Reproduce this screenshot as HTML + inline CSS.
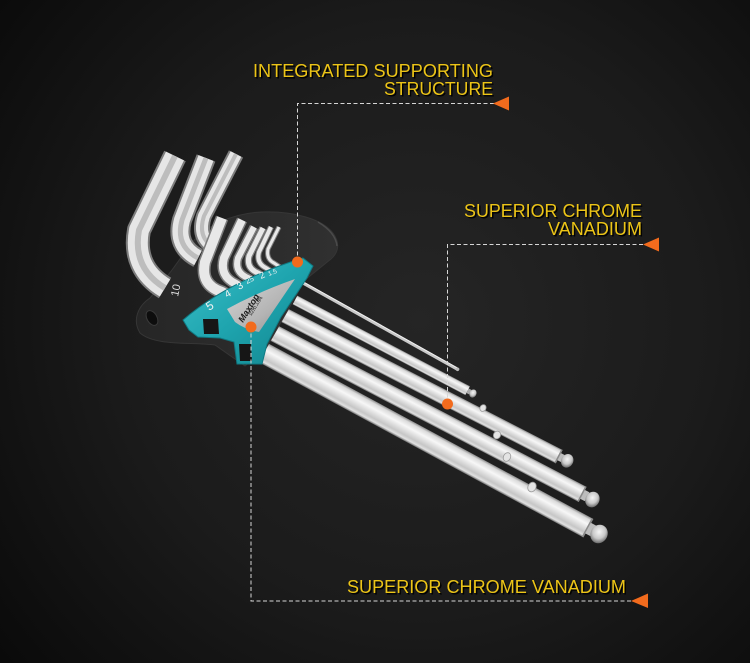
<!DOCTYPE html>
<html><head><meta charset="utf-8"><style>
html,body{margin:0;padding:0;background:#141414;}
svg{display:block}
</style></head><body>
<svg width="750" height="663" viewBox="0 0 750 663" xmlns="http://www.w3.org/2000/svg">
<defs>
<radialGradient id="bg" cx="420" cy="320" r="540" gradientUnits="userSpaceOnUse">
<stop offset="0" stop-color="#252525"/>
<stop offset="0.55" stop-color="#1b1b1b"/>
<stop offset="1" stop-color="#0a0a0a"/>
</radialGradient>
<linearGradient id="metal" x1="0" y1="0" x2="0" y2="1">
<stop offset="0" stop-color="#8a8a8a"/>
<stop offset="0.12" stop-color="#dadada"/>
<stop offset="0.35" stop-color="#f7f7f7"/>
<stop offset="0.55" stop-color="#dedede"/>
<stop offset="0.75" stop-color="#c6c6c6"/>
<stop offset="0.9" stop-color="#e2e2e2"/>
<stop offset="1" stop-color="#6c6c6c"/>
</linearGradient>
<radialGradient id="ball" cx="0.45" cy="0.4" r="0.6">
<stop offset="0" stop-color="#f5f5f5"/>
<stop offset="0.6" stop-color="#c9c9c9"/>
<stop offset="1" stop-color="#6e6e6e"/>
</radialGradient>
<linearGradient id="teal" x1="0" y1="0" x2="1" y2="1">
<stop offset="0" stop-color="#3cc0c9"/>
<stop offset="0.5" stop-color="#1ea4ae"/>
<stop offset="1" stop-color="#12838c"/>
</linearGradient>
<linearGradient id="gray" x1="0" y1="0" x2="1" y2="1">
<stop offset="0" stop-color="#d6d6d6"/>
<stop offset="0.6" stop-color="#b4b4b4"/>
<stop offset="1" stop-color="#8a8a8a"/>
</linearGradient>
<linearGradient id="blk" x1="0" y1="0" x2="1" y2="0">
<stop offset="0" stop-color="#262626"/>
<stop offset="1" stop-color="#303030"/>
</linearGradient>
</defs>

<rect width="750" height="663" fill="url(#bg)"/>

<!-- long arms -->
<g transform="translate(262,352) rotate(28.37)">
<rect x="0" y="-10.5" width="370.5" height="21" fill="url(#metal)"/>
<rect x="369" y="-10.5" width="2" height="21" fill="#8a8a8a"/>
<rect x="370.5" y="-6" width="6" height="12" fill="#bdbdbd"/>
<ellipse cx="383" cy="0" rx="8.5" ry="9.5" fill="url(#ball)"/>
</g>
<g transform="translate(268,330) rotate(27.59)">
<rect x="0" y="-8.5" width="355" height="17" fill="url(#metal)"/>
<rect x="353.5" y="-8.5" width="1.5" height="17" fill="#8a8a8a"/>
<rect x="355" y="-5" width="5" height="10" fill="#bdbdbd"/>
<ellipse cx="366" cy="0" rx="7" ry="8" fill="url(#ball)"/>
</g>
<g transform="translate(280,313) rotate(27.23)">
<rect x="0" y="-7.5" width="314" height="15" fill="url(#metal)"/>
<rect x="312.5" y="-7.5" width="1.5" height="15" fill="#8a8a8a"/>
<rect x="314" y="-4" width="4" height="8" fill="#bdbdbd"/>
<ellipse cx="323" cy="0" rx="6" ry="7" fill="url(#ball)"/>
</g>
<g transform="translate(295,300) rotate(27.73)">
<rect x="0" y="-5" width="195" height="10" fill="url(#metal)"/>
<rect x="195" y="-2.5" width="3" height="5" fill="#aaaaaa"/>
<ellipse cx="201" cy="0" rx="3.5" ry="4.2" fill="url(#ball)"/>
</g>
<g transform="translate(303,283) rotate(29.18)">
<rect x="0" y="-1.6" width="176.4" height="3.2" fill="#c9c9c9"/>
<rect x="0" y="-1.6" width="176.4" height="1" fill="#efefef"/>
<circle cx="177" cy="0" r="1.8" fill="#bbbbbb"/>
</g>
<!-- knobs of small keys lying on bars -->
<g fill="#e4e4e4" stroke="#9a9a9a" stroke-width="0.8">
<ellipse cx="0" cy="0" rx="3" ry="3.5" transform="translate(483,408) rotate(28)"/>
<ellipse cx="0" cy="0" rx="3.5" ry="4" transform="translate(497,435) rotate(28)"/>
<ellipse cx="0" cy="0" rx="3.5" ry="4.5" transform="translate(507,457) rotate(28)"/>
<ellipse cx="0" cy="0" rx="4" ry="5" transform="translate(532,487) rotate(28)"/>
</g>

<!-- black holder -->
<path d="M140,333 C132,320 138,306 150,298 L172,270 L190,245 C205,226 232,213 262,212 C294,211 322,219 333,233 C340,243 339,252 331,259 L305,280 L265,350 L245,366 L215,345 C190,342 155,346 140,333 Z" fill="url(#blk)" stroke="#363636" stroke-width="1"/>
<path d="M318,222 C328,228 336,236 337,246" fill="none" stroke="#4a4a4a" stroke-width="1.5"/>
<ellipse cx="152" cy="318" rx="5" ry="8" transform="rotate(-30 152 318)" fill="#0d0d0d" stroke="#3a3a3a" stroke-width="1"/>
<text transform="translate(178,297) rotate(-78)" font-family="Liberation Sans, sans-serif" font-size="11" fill="#dddddd">10</text>

<!-- big L short arms -->
<g fill="none" stroke-linecap="butt" stroke-linejoin="round">
<path d="M175,156 L139,230 Q132,268 165,288" stroke="#7d7d7d" stroke-width="24"/>
<path d="M175,156 L139,230 Q132,268 165,288" stroke="#e6e6e6" stroke-width="20"/>
<path d="M175,156 L139,230 Q132,268 165,288" stroke="#bdbdbd" stroke-width="6"/>

<path d="M206,158 L182,220 Q175,246 198,258" stroke="#7d7d7d" stroke-width="20"/>
<path d="M206,158 L182,220 Q175,246 198,258" stroke="#e6e6e6" stroke-width="16"/>
<path d="M206,158 L182,220 Q175,246 198,258" stroke="#bdbdbd" stroke-width="5"/>

<path d="M236,154 L204,216 Q197,238 214,247" stroke="#7d7d7d" stroke-width="16"/>
<path d="M236,154 L204,216 Q197,238 214,247" stroke="#e6e6e6" stroke-width="12"/>
<path d="M236,154 L204,216 Q197,238 214,247" stroke="#bdbdbd" stroke-width="4"/>

<!-- small keys -->
<path d="M222,218 L205,262 Q200,285 222,292 L232,298" stroke="#7d7d7d" stroke-width="13"/>
<path d="M222,218 L205,262 Q200,285 222,292 L232,298" stroke="#e8e8e8" stroke-width="10"/>
<path d="M242,220 L224,258 Q219,276 236,284 L246,290" stroke="#7d7d7d" stroke-width="11"/>
<path d="M242,220 L224,258 Q219,276 236,284 L246,290" stroke="#e8e8e8" stroke-width="8"/>
<path d="M254,227 L238,258 Q234,272 248,278 L256,283" stroke="#7d7d7d" stroke-width="9"/>
<path d="M254,227 L238,258 Q234,272 248,278 L256,283" stroke="#e8e8e8" stroke-width="6"/>
<path d="M263,228 L249,256 Q246,268 258,273 L265,277" stroke="#7d7d7d" stroke-width="7.5"/>
<path d="M263,228 L249,256 Q246,268 258,273 L265,277" stroke="#e8e8e8" stroke-width="5"/>
<path d="M271,227 L259,252 Q256,263 266,268 L272,272" stroke="#7d7d7d" stroke-width="6"/>
<path d="M271,227 L259,252 Q256,263 266,268 L272,272" stroke="#e8e8e8" stroke-width="4"/>
<path d="M279,227 L268,249 Q266,259 274,263 L280,267" stroke="#7d7d7d" stroke-width="5"/>
<path d="M279,227 L268,249 Q266,259 274,263 L280,267" stroke="#e8e8e8" stroke-width="3"/>
</g>

<!-- teal holder -->
<path d="M183,320 Q228,281 303,258 L313,266 L307,278 L281,317 L267,344 L262,364 L237,364 L234,342 L220,338 L198,337 L189,330 Z" fill="url(#teal)" stroke="#0f7a83" stroke-width="1"/>
<path d="M227,309 Q258,292 295,279 L259,332 Q244,329 235,322 Z" fill="url(#gray)"/>
<path d="M203,319 L218,319 L219,334 L204,334 Z" fill="#161616"/>
<path d="M239,344 L251,344 L252,361 L240,361 Z" fill="#161616"/>
<g font-family="Liberation Sans, sans-serif" fill="#f2f2f2">
<text transform="translate(209,311) rotate(-32)" font-size="12">5</text>
<text transform="translate(227,298) rotate(-30)" font-size="10">4</text>
<text transform="translate(239,290) rotate(-28)" font-size="10">3</text>
<text transform="translate(247,284) rotate(-26)" font-size="7.5">25</text>
<text transform="translate(261,279) rotate(-24)" font-size="9">2</text>
<text transform="translate(269,276) rotate(-22)" font-size="6.5">1.5</text>
</g>
<text transform="translate(243,323) rotate(-58)" font-family="Liberation Sans, sans-serif" font-size="9" font-weight="bold" font-style="italic" fill="#1e1e1e">Maxtop</text>
<text transform="translate(251,316) rotate(-58)" font-family="Liberation Sans, 'Noto Sans CJK SC', sans-serif" font-size="5.5" fill="#2a2a2a">迈拓工具</text>

<!-- annotation lines -->
<g fill="none" stroke="#d6d6d6" stroke-width="1" stroke-dasharray="4 2.5">
<path d="M297.5,262 V103.5 H496"/>
<path d="M447.5,404 V244.5 H645"/>
<path d="M251,327 V601 H633"/>
</g>
<g fill="#f26b1d">
<polygon points="493,103.5 509,96.5 509,110.5"/>
<polygon points="643,244.5 659,237.5 659,251.5"/>
<polygon points="631,601 648,593.5 648,608"/>
<circle cx="297.5" cy="262" r="5.5"/>
<circle cx="447.5" cy="404" r="5.5"/>
<circle cx="251" cy="327" r="5.5"/>
</g>

<!-- labels -->
<g font-family="Liberation Sans, sans-serif" font-size="18">
<g fill="#000" opacity="0.9" transform="translate(1.5,1.5)">
<text x="253" y="77" textLength="240" lengthAdjust="spacingAndGlyphs">INTEGRATED SUPPORTING</text>
<text x="384" y="95" textLength="109" lengthAdjust="spacingAndGlyphs">STRUCTURE</text>
<text x="464" y="217" textLength="178" lengthAdjust="spacingAndGlyphs">SUPERIOR CHROME</text>
<text x="548" y="235" textLength="94" lengthAdjust="spacingAndGlyphs">VANADIUM</text>
<text x="347" y="593" textLength="279" lengthAdjust="spacingAndGlyphs">SUPERIOR CHROME VANADIUM</text>
</g>
<g fill="#ecc417">
<text x="253" y="77" textLength="240" lengthAdjust="spacingAndGlyphs">INTEGRATED SUPPORTING</text>
<text x="384" y="95" textLength="109" lengthAdjust="spacingAndGlyphs">STRUCTURE</text>
<text x="464" y="217" textLength="178" lengthAdjust="spacingAndGlyphs">SUPERIOR CHROME</text>
<text x="548" y="235" textLength="94" lengthAdjust="spacingAndGlyphs">VANADIUM</text>
<text x="347" y="593" textLength="279" lengthAdjust="spacingAndGlyphs">SUPERIOR CHROME VANADIUM</text>
</g>
</g>
</svg>
</body></html>
